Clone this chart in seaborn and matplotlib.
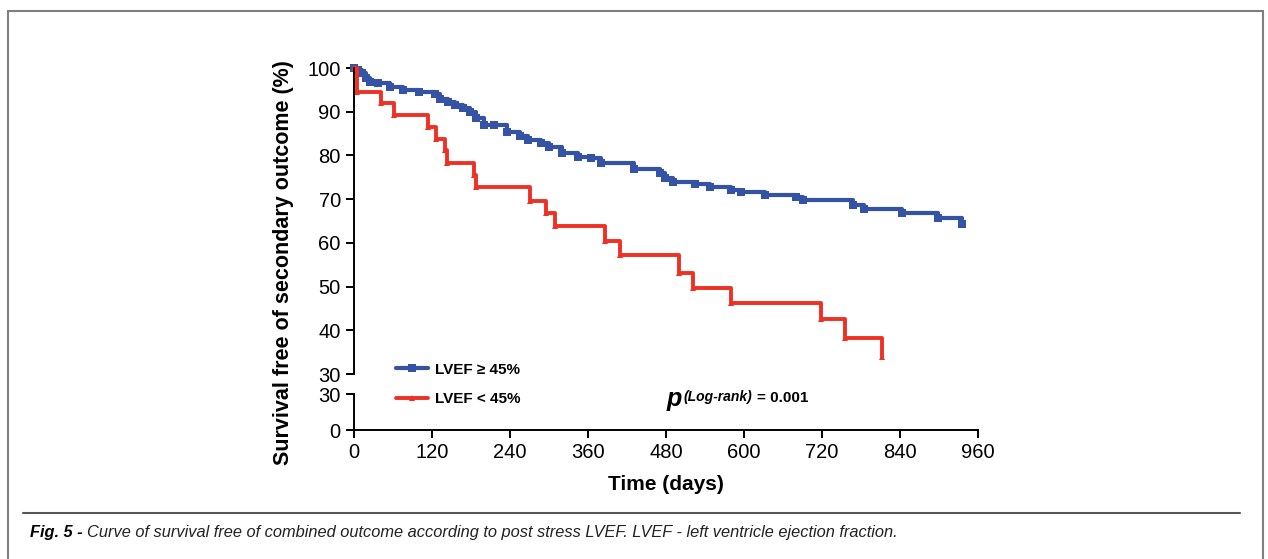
import numpy as np
import pandas as pd
import matplotlib
matplotlib.use("Agg")
import matplotlib.pyplot as plt
import seaborn as sns
from matplotlib.patches import Rectangle
from matplotlib.lines import Line2D

# --- Kaplan-Meier steps (days, % event free)
hi_days = [0, 6, 12, 18, 25, 37, 55, 75, 100, 125, 133, 145, 155, 168, 178, 188, 200,
           215, 235, 255, 268, 288, 300, 320, 345, 365, 380, 430, 471, 478, 490,
           525, 548, 580, 596, 632, 680, 691, 768, 785, 843, 899, 935]
hi_surv = [100, 99.5, 98.8, 97.8, 96.9, 96.5, 95.7, 95.0, 94.5, 94.0, 93.0, 92.3, 91.5,
           90.8, 90.0, 88.5, 87.0, 87.0, 85.4, 84.5, 83.5, 82.8, 82.0, 80.5, 79.7, 79.4,
           78.3, 77.0, 75.9, 74.8, 74.0, 73.4, 72.8, 72.1, 71.6, 70.9, 70.4, 69.8, 68.7,
           67.7, 66.8, 65.6, 64.2]

lo_days = [0, 5, 41, 62, 114, 126, 140, 143, 184, 188, 270, 296, 309, 386, 409,
           500, 522, 580, 718, 755, 813]
lo_surv = [100, 94.6, 92.1, 89.2, 86.4, 83.7, 81.2, 78.3, 75.5, 72.7, 69.6, 66.8,
           63.9, 60.5, 57.2, 53.2, 49.7, 46.3, 42.6, 38.2, 33.8]

x_ticks = [0, 120, 240, 360, 480, 600, 720, 840, 960]
y_ticks_top = [30, 40, 50, 60, 70, 80, 90, 100]
y_ticks_bottom = [0, 30]

BLUE = "#3553A4"
RED = "#EE3124"

sns.set_style("white", {"axes.edgecolor": "black", "text.color": "black",
                        "xtick.color": "black", "ytick.color": "black",
                        "axes.labelcolor": "black"})
plt.rcParams["font.family"] = ["Liberation Sans", "DejaVu Sans"]

W, H = 1268, 559
fig = plt.figure(figsize=(W / 100, H / 100), dpi=100)

def fx(px):
    return px / W

def fy(py):
    return 1 - py / H

left, right = fx(354), fx(978)
ax = fig.add_axes([left, fy(374), right - left, fy(68) - fy(374)])
ax2 = fig.add_axes([left, fy(430), right - left, fy(394) - fy(430)])

hi = pd.DataFrame({"t": hi_days, "s": hi_surv})
lo = pd.DataFrame({"t": lo_days, "s": lo_surv})

sns.lineplot(data=hi, x="t", y="s", ax=ax, color=BLUE, lw=3.0, drawstyle="steps-post",
             marker="s", markersize=6, markeredgewidth=0, estimator=None, clip_on=False)
sns.lineplot(data=lo, x="t", y="s", ax=ax, color=RED, lw=2.8, drawstyle="steps-post",
             marker="^", markersize=5, markeredgewidth=0, estimator=None, clip_on=False)

for a in (ax, ax2):
    a.set_xlim(0, 960)
    a.spines["top"].set_visible(False)
    a.spines["right"].set_visible(False)
    a.spines["left"].set_linewidth(1.4)
    a.spines["bottom"].set_linewidth(1.4)
    a.tick_params(axis="both", direction="out", length=6, width=1.4,
                  labelsize=14.5, color="black", labelcolor="black",
                  left=True, bottom=True)
    a.set_xlabel("")
    a.set_ylabel("")

ax.set_ylim(30, 100)
ax.set_yticks(y_ticks_top)
ax.spines["bottom"].set_visible(False)
ax.tick_params(axis="x", bottom=False, labelbottom=False)

ax2.set_ylim(0, 30)
ax2.set_yticks(y_ticks_bottom)
ax2.set_xticks(x_ticks)
ax2.spines["bottom"].set_bounds(0, 960)
ax2.set_xlabel("Time (days)", fontsize=15, fontweight="bold", labelpad=9)

fig.text(fx(284), fy(263), "Survival free of secondary outcome (%)", rotation=90,
         fontsize=15.5, fontweight="bold", ha="center", va="center")

handles = [Line2D([], [], color=BLUE, lw=3.0, marker="s", markersize=6, markeredgewidth=0),
           Line2D([], [], color=RED, lw=2.8, marker="^", markersize=5, markeredgewidth=0)]
fig.legend(handles, ["LVEF \u2265 45%", "LVEF < 45%"], loc="upper left",
           bbox_to_anchor=(fx(388), fy(355)), frameon=False,
           prop={"weight": "bold", "size": 11}, handlelength=2.1,
           handletextpad=0.5, labelspacing=1.0, borderpad=0)

fig.text(fx(667), fy(399), "p", fontsize=18, fontweight="bold", style="italic",
         ha="left", va="center")
fig.text(fx(683), fy(397), "(Log-rank)", fontsize=10, fontweight="bold", style="italic",
         ha="left", va="center")
fig.text(fx(757), fy(398), "= 0.001", fontsize=11, fontweight="bold",
         ha="left", va="center")

# outer frame and caption
fig.add_artist(Rectangle((fx(8), -0.1), fx(1263) - fx(8), fy(11) + 0.1,
                         transform=fig.transFigure, fill=False,
                         edgecolor="#7f7f7f", lw=1.5))
fig.add_artist(Line2D([fx(23), fx(1240)], [fy(513), fy(513)],
                      transform=fig.transFigure, color="#555555", lw=1.5))
cap_font = ["Liberation Sans Narrow", "Liberation Sans", "DejaVu Sans"]
t1 = fig.text(fx(30), fy(533), "Fig. 5 - ", fontsize=11.8, fontweight="bold",
              style="italic", family=cap_font, ha="left", va="center")
fig.canvas.draw()
bb = t1.get_window_extent()
fig.text(bb.x1 / W, fy(533),
         "Curve of survival free of combined outcome according to post stress LVEF. "
         "LVEF - left ventricle ejection fraction.",
         fontsize=11.8, style="italic", family=cap_font, ha="left", va="center",
         color="#222222")

fig.savefig("out.png", dpi=100)
